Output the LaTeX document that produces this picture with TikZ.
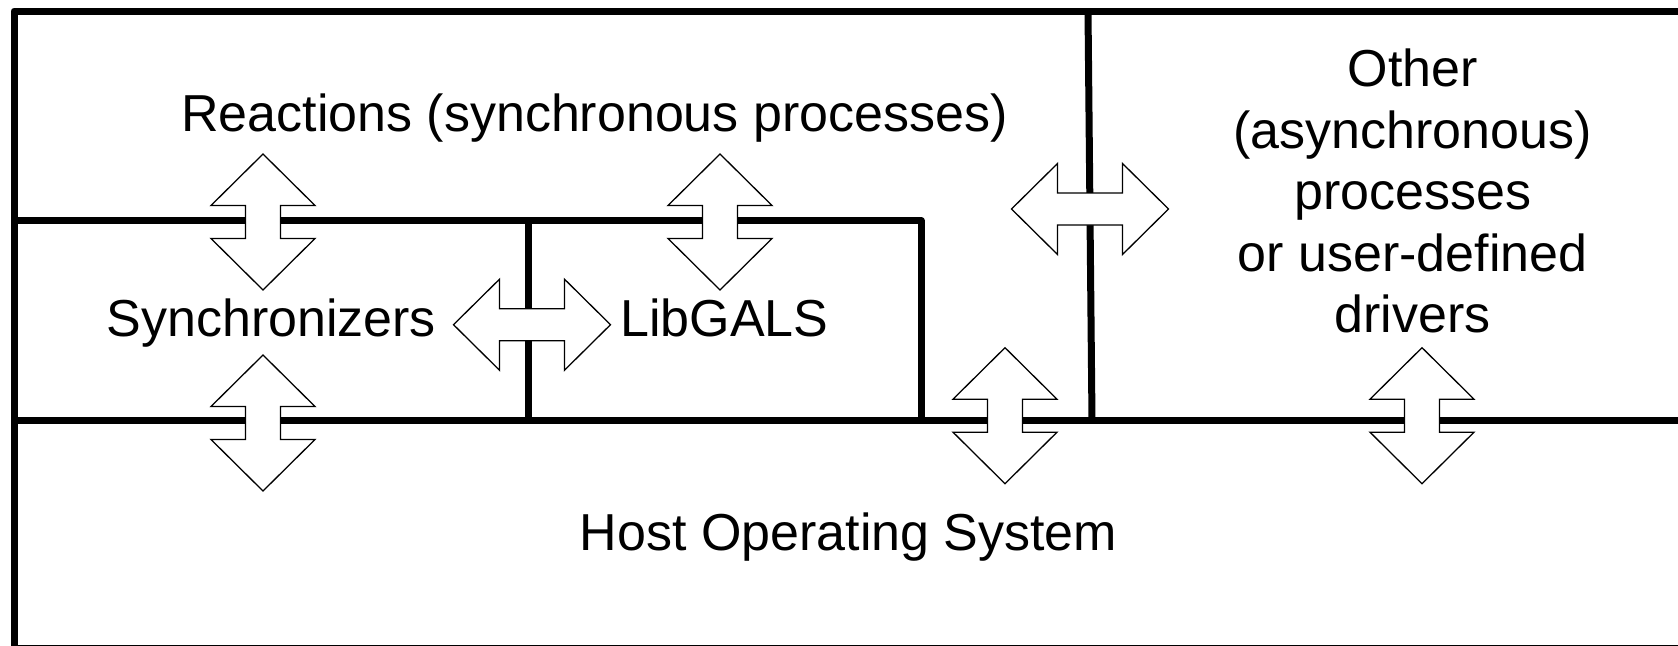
\documentclass[tikz,border=0pt]{standalone}
\usepackage{fontspec}
\setmainfont{Liberation Sans}

\tikzset{
  wall/.style={line width=7pt, line join=round},
  swapline/.style={draw=black, fill=white, line width=1.3pt, line join=miter},
  layer/.style={inner sep=0pt, font=\fontsize{52}{61.5}\selectfont},
  % vertical two-way exchange arrow
  vswap/.pic={
    \draw[swapline] (0,-68) -- (52,-16.5) -- (17.5,-16.5) -- (17.5,16.5) -- (52,16.5)
      -- (0,68) -- (-52,16.5) -- (-17.5,16.5) -- (-17.5,-16.5) -- (-52,-16.5) -- cycle;
  },
  % horizontal two-way exchange arrow
  hswap/.pic={
    \draw[swapline] (-78.5,0) -- (-32.5,-45.5) -- (-32.5,-16) -- (32.5,-16) -- (32.5,-45.5)
      -- (78.5,0) -- (32.5,45.5) -- (32.5,16) -- (-32.5,16) -- (-32.5,45.5) -- cycle;
  },
}

\begin{document}
\begin{tikzpicture}[x=1pt,y=-1pt]
  \useasboundingbox (0,0) rectangle (1678,645);

  % corner points of the layer boundaries
  \coordinate (tl) at (14,11);
  \coordinate (tr) at (1720,11);
  \coordinate (bl) at (14,648);
  \coordinate (br) at (1720,648);
  \coordinate (midL) at (14,220.5);
  \coordinate (midR) at (921,220.5);
  \coordinate (midRb) at (921,420.5);
  \coordinate (lowL) at (14,420.5);
  \coordinate (lowR) at (1720,420.5);
  \coordinate (libT) at (528,220.5);
  \coordinate (libB) at (528,420.5);
  \coordinate (othT) at (1088,11);
  \coordinate (othB) at (1092,420.5);

  % layer boundaries
  \draw[wall] (bl) -- (tl) -- (tr);
  \draw[wall] (bl) -- (br);
  \draw[wall] (midL) -- (midR) -- (midRb);
  \draw[wall] (lowL) -- (lowR);
  \draw[wall] (libT) -- (libB);
  \draw[wall] (othT) -- (othB);

  % layer names
  \node[layer, anchor=base] (react) at (594.5,131) {Reactions (synchronous processes)};
  \node[layer, anchor=base] (sync) at (271.3,336) {Synchronizers};
  \node[layer, anchor=base] (lib) at (724.5,336) {LibGALS};
  \node[layer, anchor=base] (host) at (848.5,550) {Host Operating System};
  \node[layer, align=center] (other) at (1412.7,191.4)
    {Other\\(asynchronous)\\processes\\or user-defined\\drivers};

  % exchanges between layers
  \pic (syncUp)   at (263,222)    {vswap};
  \pic (syncDown) at (263,423)    {vswap};
  \pic (libUp)    at (720,222)    {vswap};
  \pic (reactOS)  at (1005,415.7) {vswap};
  \pic (otherOS)  at (1422,415.7) {vswap};
  \pic (syncLib)  at (532,324.7)  {hswap};
  \pic (reactOth) at (1090,209)   {hswap};
\end{tikzpicture}
\end{document}
